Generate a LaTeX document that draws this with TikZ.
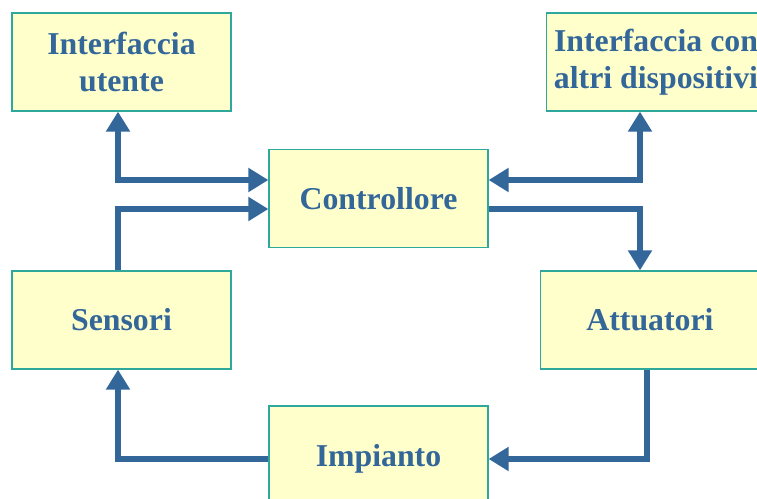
\documentclass[tikz,border=0pt]{standalone}
\usepackage{fontspec}
\setmainfont{Liberation Serif}
\usetikzlibrary{arrows.meta,positioning,calc}
\definecolor{boxfill}{HTML}{FFFFCC}
\definecolor{boxline}{HTML}{2EA89A}
\definecolor{flow}{HTML}{336699}
\begin{document}
\begin{tikzpicture}[x=0.5pt,y=-0.5pt,
>={Triangle[length=10pt,width=11.5pt]},
block/.style={draw=boxline,fill=boxfill,line width=0.6pt,
  minimum width=109.5pt,minimum height=49pt,align=center,
  text=flow,font=\fontsize{15.9}{18.5}\selectfont\bfseries},
link/.style={draw=flow,line width=3pt}]
\useasboundingbox (0,0) rectangle (757,499);
\node[block] (ui) at (121.5,62) {Interfaccia\\utente};
\node[block] (ext) at (656,62) {Interfaccia con\\altri dispositivi};
\node[block] (ctrl) at (378.5,198.5) {Controllore};
\node[block] (sens) at (121.5,320) {Sensori};
\node[block] (act) at (650,320) {Attuatori};
\node[block,minimum height=53pt] (plant) at (378.5,459) {Impianto};
\path[link,<->]
([xshift=-1.75pt]ui.south) |- ([yshift=9.25pt]ctrl.west);
\path[link,->]
([xshift=-1.75pt]sens.north) |- ([yshift=-5.25pt]ctrl.west);
\path[link,<->]
([yshift=9.25pt]ctrl.east) -| ([xshift=-8pt]ext.south);
\path[link,->]
([yshift=-5.25pt]ctrl.east) -| ([xshift=-5pt]act.north);
\path[link,->]
([xshift=-1.5pt]act.south) |- (plant.east);
\path[link,->]
(plant.west) -| ([xshift=-1.75pt]sens.south);
\end{tikzpicture}
\end{document}
